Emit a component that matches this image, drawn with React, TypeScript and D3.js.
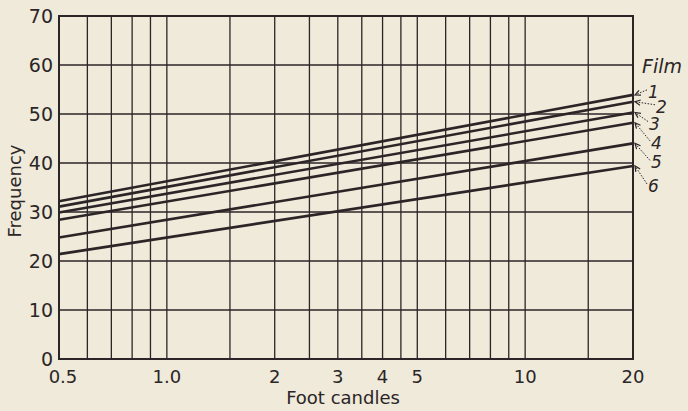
import * as d3 from "d3";

// 照度 (foot candles) — 兩端點
const footCandles = [0.5, 20];
// 各底片的頻率 (左端 0.5, 右端 20)
const filmNames = ["1", "2", "3", "4", "5", "6"];
const freqAtLow = [32.2, 31.1, 29.9, 28.4, 24.8, 21.4];
const freqAtHigh = [53.9, 52.5, 50.3, 48.2, 44.0, 39.4];

// 格線與刻度
const xGrid = [0.6, 0.7, 0.8, 0.9, 1, 1.5, 2, 2.5, 3, 3.5, 4, 4.5, 5, 6, 7, 8, 9, 10, 15];
const xTickValues = [0.5, 1, 2, 3, 4, 5, 10, 20];
const xTickLabels = ["0.5", "1.0", "2", "3", "4", "5", "10", "20"];
const yTicks = [0, 10, 20, 30, 40, 50, 60, 70];

// 標籤相對於線端點的位移 (版面)
const labelDx = [13, 21, 14, 16, 16, 13];
const labelDy = [3, 11, 17, 26, 25, 26];

const W = 688;
const H = 411;
const ink = "#2b2527";
const font = "'DejaVu Sans', sans-serif";

export default function App() {
  const x = d3.scaleLog().domain([0.5, 20]).range([59, 633]);
  const y = d3.scaleLinear().domain([0, 70]).range([359, 16]);

  const line = d3
    .line<[number, number]>()
    .x((d) => x(d[0]))
    .y((d) => y(d[1]));

  const [x0, x1] = x.range();

  return (
    <svg
      width={W}
      height={H}
      style={{ position: "absolute", left: 0, top: 0, background: "#efead9" }}
    >
      <rect width={W} height={H} fill="#efead9" />
      {/* 縱向格線 */}
      {xGrid.map((v) => (
        <line key={"gx" + v} x1={x(v)} x2={x(v)} y1={y(0)} y2={y(70)} stroke={ink} strokeWidth={1.3} />
      ))}
      {/* 橫向格線 */}
      {yTicks.map((v) => (
        <line key={"gy" + v} x1={x0} x2={x1} y1={y(v)} y2={y(v)} stroke={ink} strokeWidth={1.3} />
      ))}
      {/* 外框 */}
      <rect x={x0} y={y(70)} width={x1 - x0} height={y(0) - y(70)} fill="none" stroke={ink} strokeWidth={2} />

      {/* y 軸刻度 */}
      {yTicks.map((v) => (
        <text key={"ty" + v} x={53} y={y(v) + 7} textAnchor="end" fontFamily={font} fontSize={19} fill={ink}>
          {v}
        </text>
      ))}
      {/* x 軸刻度 */}
      {xTickValues.map((v, i) => (
        <text key={"tx" + v} x={x(v) + (i === 0 ? 4 : 0)} y={383} textAnchor="middle" fontFamily={font} fontSize={18} fill={ink}>
          {xTickLabels[i]}
        </text>
      ))}

      {/* 軸標題 */}
      <text x={343} y={404} textAnchor="middle" fontFamily={font} fontSize={18} fill={ink}>
        Foot candles
      </text>
      <text
        transform={`translate(21,${191}) rotate(-90)`}
        textAnchor="middle"
        fontFamily={font}
        fontSize={18}
        fill={ink}
      >
        Frequency
      </text>

      {/* 折線 */}
      {filmNames.map((n, i) => (
        <path
          key={"l" + n}
          d={line([
            [footCandles[0], freqAtLow[i]],
            [footCandles[1], freqAtHigh[i]],
          ]) as string}
          fill="none"
          stroke={ink}
          strokeWidth={2.6}
        />
      ))}

      {/* 圖例標籤 */}
      <text x={642} y={73} fontFamily={font} fontStyle="italic" fontSize={19} fill={ink}>
        Film
      </text>
      {filmNames.map((n, i) => {
        const ex = x(footCandles[1]) + 2;
        const ey = y(freqAtHigh[i]);
        const lx = ex + labelDx[i];
        const ly = ey + labelDy[i];
        const sx = lx - 1;
        const sy = ly - 8;
        const ang = Math.atan2(sy - ey, sx - ex);
        const a1 = ang + 0.45;
        const a2 = ang - 0.45;
        return (
          <g key={"lab" + n}>
            <line x1={sx} y1={sy} x2={ex} y2={ey} stroke={ink} strokeWidth={1} strokeDasharray="1.5,1.5" />
            <path
              d={`M${ex + 6 * Math.cos(a1)},${ey + 6 * Math.sin(a1)} L${ex},${ey} L${ex + 6 * Math.cos(a2)},${ey + 6 * Math.sin(a2)}`}
              fill="none"
              stroke={ink}
              strokeWidth={1.2}
            />
            <text x={lx} y={ly} fontFamily={font} fontStyle="italic" fontSize={17} fill={ink}>
              {n}
            </text>
          </g>
        );
      })}
    </svg>
  );
}
